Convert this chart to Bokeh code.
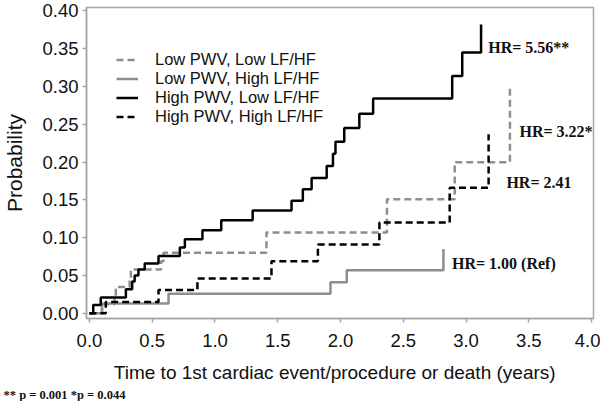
import numpy as np
from bokeh.plotting import figure
from bokeh.models import Range1d, FixedTicker, NumeralTickFormatter, Legend, LegendItem, Label, Title
from bokeh.embed import file_html
from bokeh.resources import INLINE

# ---------------- data ----------------
series_names = ["Low PWV, Low LF/HF", "Low PWV, High LF/HF",
                "High PWV, Low LF/HF", "High PWV, High LF/HF"]

lowpwv_lowlf_t = [0.0, 0.10, 0.20, 0.21, 0.32, 0.33, 0.57, 0.59, 1.41, 2.37, 2.91, 3.35]
lowpwv_lowlf_p = [0.0, 0.012, 0.023, 0.035, 0.046, 0.058, 0.069, 0.080, 0.107, 0.151, 0.200, 0.300]

lowpwv_highlf_t = [0.0, 0.10, 0.63, 1.92, 2.05, 2.82]
lowpwv_highlf_p = [0.0, 0.013, 0.026, 0.041, 0.057, 0.085]

highpwv_lowlf_t = [0.0, 0.03, 0.09, 0.29, 0.34, 0.36, 0.39, 0.44, 0.55, 0.72, 0.76, 0.90, 1.05,
                   1.30, 1.61, 1.70, 1.77, 1.89, 1.94, 1.96, 2.03, 2.15, 2.26, 2.89, 2.97, 3.12]
highpwv_lowlf_p = [0.0, 0.011, 0.021, 0.032, 0.042, 0.050, 0.058, 0.066, 0.076, 0.087, 0.098, 0.110, 0.123,
                   0.136, 0.149, 0.164, 0.179, 0.195, 0.211, 0.227, 0.245, 0.264, 0.284, 0.314, 0.345, 0.382]

highpwv_highlf_t = [0.0, 0.13, 0.55, 0.86, 1.45, 1.82, 2.31, 2.87, 3.18]
highpwv_highlf_p = [0.0, 0.015, 0.031, 0.046, 0.069, 0.091, 0.120, 0.166, 0.237]

hr_texts = ["HR= 5.56**", "HR= 3.22*", "HR= 2.41", "HR= 1.00  (Ref)"]
footnote = "** p =  0.001   *p =  0.044"

x_ticks = [0.0, 0.5, 1.0, 1.5, 2.0, 2.5, 3.0, 3.5, 4.0]
y_ticks = [0.00, 0.05, 0.10, 0.15, 0.20, 0.25, 0.30, 0.35, 0.40]

# ---------------- figure ----------------
GREY = "#8e8e8e"
AXIS_GREY = "#a6a6a6"
SANS = "Liberation Sans"
SERIF = "Liberation Serif"

p = figure(width=600, height=401, output_backend="svg", toolbar_location=None,
           x_range=Range1d(-0.0237, 4.0158), y_range=Range1d(-0.0068, 0.4045),
           min_border_left=81, min_border_right=7, min_border_top=7, min_border_bottom=79)

p.xgrid.visible = False
p.ygrid.visible = False
p.outline_line_color = AXIS_GREY
p.outline_line_width = 1.5
p.background_fill_color = "white"
p.border_fill_color = "white"

for ax in (p.xaxis[0], p.yaxis[0]):
    ax.axis_line_color = AXIS_GREY
    ax.axis_line_width = 1.5
    ax.major_tick_line_color = AXIS_GREY
    ax.major_tick_line_width = 1.5
    ax.major_tick_out = 4
    ax.major_tick_in = 0
    ax.minor_tick_line_color = None
    ax.major_label_text_font = SANS
    ax.major_label_text_font_size = "18.5px"
    ax.major_label_text_color = "#111111"
    ax.axis_label_text_font = SANS
    ax.axis_label_text_font_style = "normal"
    ax.axis_label_text_color = "#111111"

p.xaxis.ticker = FixedTicker(ticks=x_ticks)
p.xaxis.formatter = NumeralTickFormatter(format="0.0")
p.xaxis.major_label_standoff = 11
p.xaxis.axis_label = "Time to 1st  cardiac event/procedure or  death (years)"
p.xaxis.axis_label_text_font_size = "19px"
p.xaxis.axis_label_standoff = 12

p.yaxis.ticker = FixedTicker(ticks=y_ticks)
p.yaxis.formatter = NumeralTickFormatter(format="0.00")
p.yaxis.major_label_standoff = 4
p.yaxis.axis_label = "Probability"
p.yaxis.axis_label_text_font_size = "21px"
p.yaxis.axis_label_standoff = 13

# ---------------- curves ----------------
r1 = p.step(lowpwv_lowlf_t, lowpwv_lowlf_p, mode="after", line_color=GREY,
            line_width=2.5, line_dash="7 4")
r2 = p.step(lowpwv_highlf_t, lowpwv_highlf_p, mode="after", line_color=GREY,
            line_width=2.5)
r4 = p.step(highpwv_highlf_t, highpwv_highlf_p, mode="after", line_color="black",
            line_width=2.5, line_dash="7 4")
r3 = p.step(highpwv_lowlf_t, highpwv_lowlf_p, mode="after", line_color="black",
            line_width=2.5)

legend = Legend(items=[LegendItem(label=n, renderers=[r]) for n, r in
                       zip(series_names, [r1, r2, r3, r4])],
                location=(30, 192), orientation="vertical",
                glyph_width=22, glyph_height=19, label_height=19, spacing=0,
                padding=0, margin=0, label_standoff=17,
                label_text_font=SANS, label_text_font_size="16.5px",
                label_text_color="#111111",
                border_line_alpha=0, background_fill_alpha=0)
p.add_layout(legend, "center")

# ---------------- HR annotations ----------------
hr_pos = [(3.177, 0.352), (3.426, 0.241), (3.322, 0.173), (2.888, 0.0658)]
for txt, (hx, hy) in zip(hr_texts, hr_pos):
    p.add_layout(Label(x=hx, y=hy, text=txt, text_font=SERIF, text_font_style="bold",
                       text_font_size="16px", text_baseline="middle", text_align="left",
                       text_color="#111111"))

note = Title(text=footnote, align="left", offset=-83, text_font=SERIF,
             text_font_style="bold", text_font_size="12.5px", text_color="#111111",
             standoff=0)
p.add_layout(note, "below")

open("out.html", "w").write(file_html(p, INLINE))
